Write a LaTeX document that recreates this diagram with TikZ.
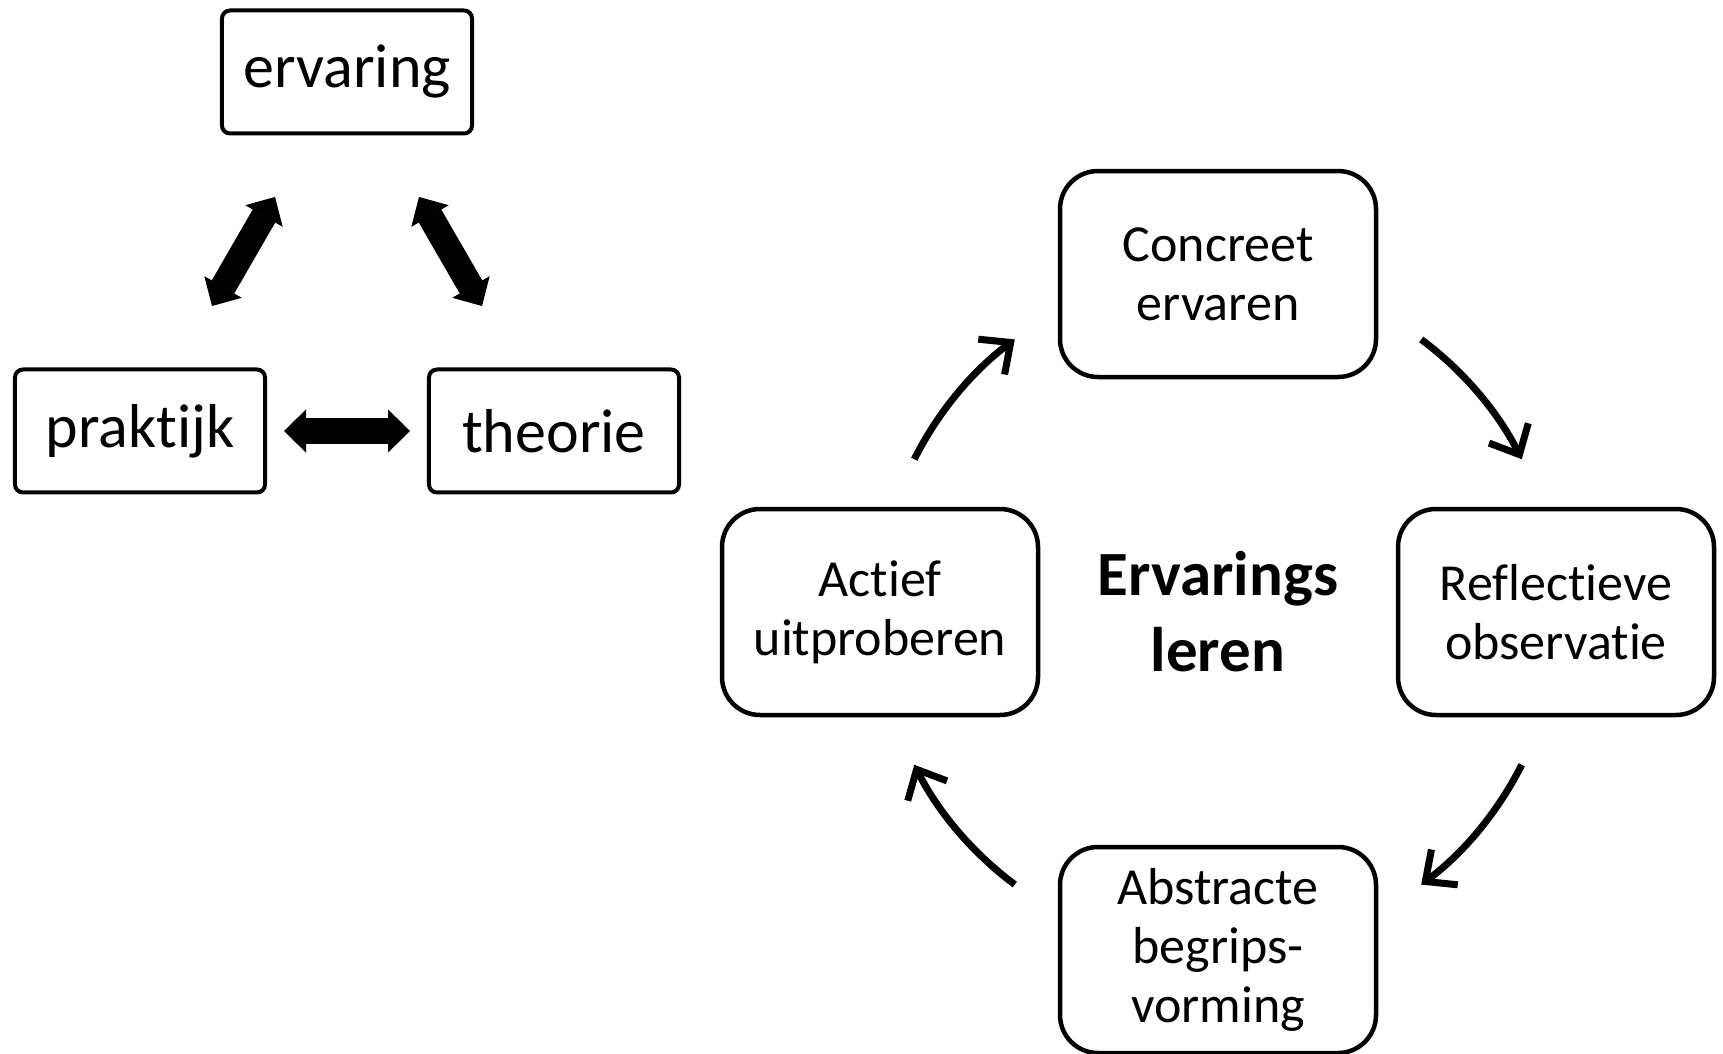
\documentclass[tikz,border=0pt]{standalone}
\usepackage{fontspec}
\setmainfont{Carlito}[Ligatures=NoCommon,Contextuals=NoAlternate]
\usetikzlibrary{matrix,arrows.meta}

\begin{document}
\begin{tikzpicture}[
		x=1pt,y=1pt,
		plain/.style={
			draw=none,
			fill=none,
		},
		term/.style={draw,line width=4pt,rounded corners=8pt,minimum width=250pt,minimum height=123pt,inner sep=4pt,
			anchor=center,font=\fontsize{62pt}{70pt}\selectfont
		},
		stage/.style={draw,line width=4.5pt,rounded corners=38pt,minimum width=316pt,minimum height=206pt,inner sep=4pt,
			anchor=center,font=\fontsize{52pt}{59pt}\selectfont
		},
		core/.style={draw=none,font=\fontsize{63pt}{76pt}\selectfont\bfseries},
		tri/.style={
			matrix of nodes,
			nodes={term},
			nodes in empty cells,
			column sep=-47pt,
			row sep=232pt
		},
		kolbnet/.style={
			matrix of nodes,
			nodes={stage},
			nodes in empty cells,
			column sep=17.5pt,
			row sep=127.5pt
		},
		link/.style={line width=26pt,>={Triangle[width=43pt,length=22pt,line width=1pt]},<->},
		flow/.style={line width=7pt,-{Straight Barb[length=24pt,width=44pt]}},
		]
		\useasboundingbox (0,0) rectangle (1723,1053);
		\matrix[tri] (trio) at (347,801.5)
		{
			|[plain]| & ervaring & |[plain]| \\
			praktijk & |[plain]| & theorie \\
		};
		\matrix[kolbnet] (kolb) at (1218,441)
		{
			|[plain]| & \parbox{300pt}{\centering Concreet\\ervaren} & |[plain]| \\
			\parbox{300pt}{\centering Actief\\uitproberen} & |[core]| \parbox{300pt}{\centering Ervarings\\leren} & \parbox{300pt}{\centering Reflectieve\\observatie} \\
			|[plain]| & \parbox{300pt}{\centering Abstracte\\begrips-\\vorming} & |[plain]| \\
		};
		% ervaring <-> praktijk, theorie
		\foreach \ti in {1,3}
			\draw[link,shorten <=71pt,shorten >=71pt] (trio-1-2) -- (trio-2-\ti);
		% praktijk <-> theorie
		\draw[link,shorten <=17pt,shorten >=17pt] (trio-2-1) -- (trio-2-3);
		% Cycle arrows
		\foreach \ang in {140,40,-40,-140}
			\draw[flow] ([shift={(\ang+13.3:340pt)}]kolb-2-2.center) arc[start angle=\ang+13.3,delta angle=-26.6,radius=340pt];
\end{tikzpicture}
\end{document}
